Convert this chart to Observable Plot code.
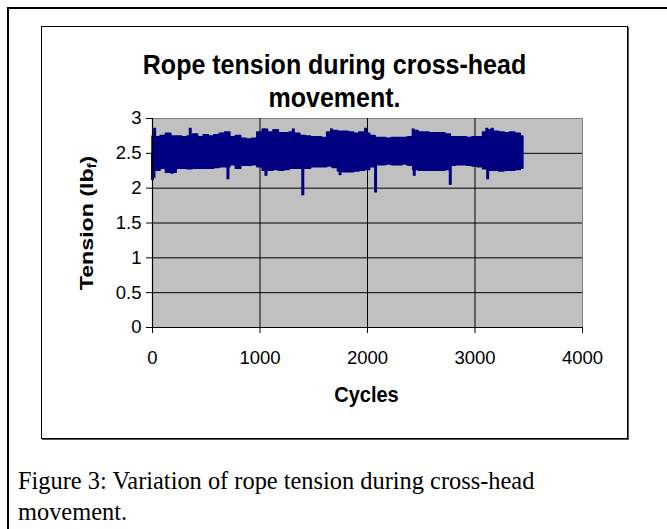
<!DOCTYPE html>
<html>
<head>
<meta charset="utf-8">
<script src="https://cdn.jsdelivr.net/npm/d3@7"></script>
<script src="https://cdn.jsdelivr.net/npm/@observablehq/plot@0.6"></script>
<style>
  html, body { margin: 0; padding: 0; background: #fff; }
  #page { position: relative; width: 667px; height: 529px; overflow: hidden; background: #fff; }
  #outer { position: absolute; left: 7px; top: 7px; width: 700px; height: 560px; border-left: 2px solid #000; border-top: 2px solid #000; }
  #inner { position: absolute; left: 41px; top: 26px; width: 585px; height: 411px; border: 1px solid #000; box-shadow: 1px 1px 0 #555; }
  #title { position: absolute; left: 41px; top: 48px; width: 587px; text-align: center; font-family: Arial, "Liberation Sans", sans-serif; font-weight: bold; font-size: 25px; line-height: 28.5px; color: #000; transform: scaleY(1.14); transform-origin: top center; }
  #chart { position: absolute; left: 41px; top: 105px; }
  #xlabel { position: absolute; left: 300px; top: 383px; width: 133px; text-align: center; font-family: Arial, "Liberation Sans", sans-serif; font-weight: bold; font-size: 20px; transform: scaleY(1.1); }
  #ylabel { position: absolute; left: 87px; top: 223px; transform: translate(-50%, -50%) rotate(-90deg) scaleX(1.22); white-space: nowrap; font-family: Arial, "Liberation Sans", sans-serif; font-weight: bold; font-size: 19px; }
  #ylabel sub { font-size: 12px; vertical-align: -3px; }
  #caption { position: absolute; left: 18px; top: 465px; width: 600px; font-family: "Times New Roman", "Liberation Serif", serif; font-size: 24.4px; line-height: 31px; color: #000; }
</style>
</head>
<body>
<div id="page">
  <div id="outer"></div>
  <div id="inner"></div>
  <div id="title">Rope tension during cross-head<br>movement.</div>
  <div id="chart"></div>
  <div id="xlabel">Cycles</div>
  <div id="ylabel">Tension (lb<sub>f</sub>)</div>
  <div id="caption">Figure 3: Variation of rope tension during cross-head<br>movement.</div>
</div>
<script>
// Tick labels
const xTicks = [0, 1000, 2000, 3000, 4000];
const yTicks = [0, 0.5, 1, 1.5, 2, 2.5, 3];

// Band envelope of the dense tension trace, read every 50 cycles
const sampleCycles = d3.range(0, 3451, 50);
const upperTension = [
  2.74, 2.73, 2.75, 2.78, 2.74, 2.74, 2.73, 2.74, 2.77, 2.73,
  2.76, 2.74, 2.76, 2.78, 2.80, 2.73, 2.75, 2.71, 2.70, 2.71,
  2.80, 2.84, 2.80, 2.83, 2.79, 2.79, 2.80, 2.78, 2.75, 2.74,
  2.73, 2.73, 2.72, 2.80, 2.82, 2.81, 2.81, 2.80, 2.78, 2.80,
  2.78, 2.75, 2.72, 2.72, 2.71, 2.72, 2.72, 2.72, 2.73, 2.82,
  2.80, 2.80, 2.79, 2.79, 2.79, 2.77, 2.73, 2.73, 2.73, 2.72,
  2.73, 2.73, 2.80, 2.83, 2.81, 2.80, 2.79, 2.80, 2.78, 2.74
];
const lowerTension = [
  2.15, 2.25, 2.28, 2.22, 2.22, 2.28, 2.28, 2.27, 2.28, 2.28,
  2.28, 2.28, 2.29, 2.30, 2.30, 2.33, 2.28, 2.32, 2.32, 2.33,
  2.30, 2.25, 2.25, 2.26, 2.25, 2.26, 2.28, 2.28, 2.28, 2.28,
  2.30, 2.30, 2.30, 2.31, 2.29, 2.24, 2.23, 2.23, 2.24, 2.25,
  2.26, 2.30, 2.33, 2.33, 2.34, 2.33, 2.33, 2.34, 2.32, 2.26,
  2.25, 2.25, 2.25, 2.25, 2.25, 2.26, 2.32, 2.33, 2.33, 2.32,
  2.31, 2.30, 2.27, 2.25, 2.25, 2.24, 2.25, 2.25, 2.26, 2.28
];

// Isolated spikes in the trace
const spikeCycles = [0, 20, 180, 351, 702, 1040, 1055, 1310, 1398, 1665, 1745, 1982, 2075, 2425, 2435, 2770, 3110, 3118, 3160];
const spikeTension = [2.11, 2.86, 2.20, 2.86, 2.12, 2.85, 2.17, 2.85, 1.89, 2.85, 2.18, 2.86, 1.93, 2.85, 2.17, 2.04, 2.86, 2.12, 2.86];

const band = sampleCycles.map((c, i) => ({c, hi: upperTension[i], lo: lowerTension[i]}));
const spikes = spikeCycles.map((c, i) => ({c, v: spikeTension[i]}));

const navy = "#000080";
const chart = Plot.plot({
  width: 586,
  height: 310,
  marginLeft: 111,
  marginRight: 45,
  marginTop: 13,
  marginBottom: 88,
  style: { fontFamily: "Arial, 'Liberation Sans', sans-serif", fontSize: "18.5px", color: "#000", background: "transparent", overflow: "visible" },
  x: { domain: [0, 4000] },
  y: { domain: [0, 3] },
  marks: [
    Plot.frame({ fill: "#C0C0C0", stroke: "#808080" }),
    Plot.gridX(xTicks.filter(d => d > 0 && d < 4000), { stroke: "#000", strokeOpacity: 1 }),
    Plot.gridY(yTicks.filter(d => d > 0 && d < 3), { stroke: "#000", strokeOpacity: 1 }),
    Plot.areaY(band, { x: "c", y1: "lo", y2: "hi", fill: navy, stroke: navy, strokeWidth: 1.5, curve: "step" }),
    Plot.ruleX(spikes, { x: "c", y1: 2.5, y2: "v", stroke: navy, strokeWidth: 3 }),
    Plot.ruleY([0], { stroke: "#000", strokeWidth: 1.2 }),
    Plot.ruleX([0], { stroke: "#000", strokeWidth: 1.2 }),
    Plot.axisX(xTicks, { tickSize: 6, tickPadding: 17, tickFormat: d => String(d), label: null, stroke: "#000" }),
    Plot.axisY(yTicks, { tickSize: 6, tickPadding: 5, tickFormat: d => String(d), label: null, stroke: "#000" })
  ]
});
document.getElementById("chart").appendChild(chart);
</script>
</body>
</html>
